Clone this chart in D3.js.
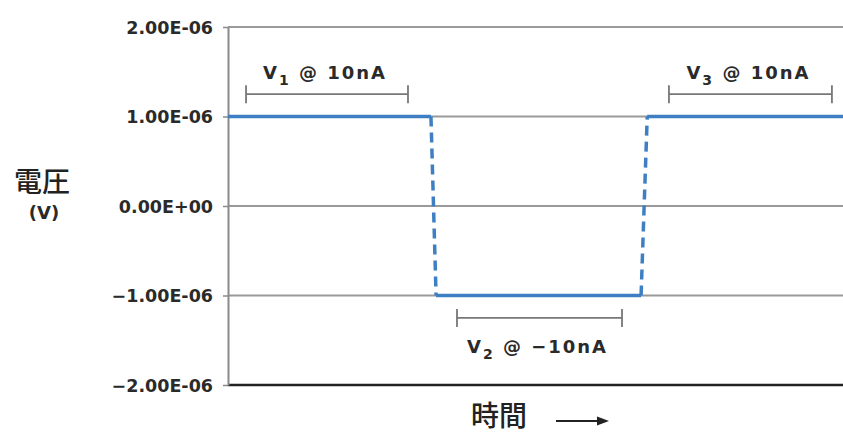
<!DOCTYPE html>
<html>
<head>
<meta charset="utf-8">
<script src="https://cdn.jsdelivr.net/npm/d3@7"></script>
<style>
  body { margin: 0; background: #fff; }
  svg { display: block; }
  .tick text { font-family: "DejaVu Sans", sans-serif; font-weight: bold; font-size: 17.5px; fill: #2a2a2a; }
  .lbl { font-family: "DejaVu Sans", sans-serif; font-weight: bold; font-size: 18px; fill: #2a2a2a; }
  .cjk { font-family: "Noto Sans CJK JP", sans-serif; font-weight: 500; font-size: 28px; fill: #222; }
</style>
</head>
<body>
<div id="chart"></div>
<script>
// y ticks (volts) and their printed labels
var yTicks = [2e-6, 1e-6, 0, -1e-6, -2e-6];
var yTickLabels = ["2.00E-06", "1.00E-06", "0.00E+00", "\u22121.00E-06", "\u22122.00E-06"];

// time in arbitrary units, voltage in volts
var levelSegs = [
    [{ t: 0, v: 1e-6 }, { t: 9.9, v: 1e-6 }],
    [{ t: 10.15, v: -1e-6 }, { t: 20.15, v: -1e-6 }],
    [{ t: 20.45, v: 1e-6 }, { t: 30, v: 1e-6 }]
];
var switchSegs = [
    [{ t: 9.9, v: 1e-6 }, { t: 10.15, v: -1e-6 }],
    [{ t: 20.15, v: -1e-6 }, { t: 20.45, v: 1e-6 }]
];

// measurement windows
var windowNames = ["V", "V", "V"];
var windowSubs = ["1", "2", "3"];
var windowCurrents = ["10nA", "\u221210nA", "10nA"];
var windowStart = [0.88, 11.17, 21.51];
var windowEnd = [8.78, 19.22, 29.46];
var windowLevel = [1.25e-6, -1.25e-6, 1.25e-6];

var width = 843, height = 437;
var margin = { left: 228, right: 0, top: 27, bottom: 52 };

var svg = d3.select("#chart").append("svg")
    .attr("width", width)
    .attr("height", height);

var x = d3.scaleLinear().domain([0, 30]).range([margin.left, width - margin.right]);
var y = d3.scaleLinear().domain([-2e-6, 2e-6]).range([height - margin.bottom, margin.top]);

// horizontal grid lines
svg.append("g")
    .selectAll("line")
    .data(yTicks)
    .join("line")
    .attr("x1", x(0))
    .attr("x2", x(30))
    .attr("y1", d => y(d))
    .attr("y2", d => y(d))
    .attr("stroke", d => d === -2e-6 ? "#222" : "#9a9a9a")
    .attr("stroke-width", d => d === -2e-6 ? 2.5 : 2);

// y axis
var yAxis = d3.axisLeft(y)
    .tickValues(yTicks)
    .tickFormat((d, i) => yTickLabels[i])
    .tickSize(5)
    .tickSizeOuter(0)
    .tickPadding(10);

var ax = svg.append("g")
    .attr("transform", "translate(" + x(0) + ",0)")
    .call(yAxis);
ax.select(".domain").attr("stroke", "#8a8a8a").attr("stroke-width", 2);
ax.selectAll(".tick line").attr("stroke", "#8a8a8a").attr("stroke-width", 1.5);
ax.selectAll(".tick text").attr("dy", "0.36em");

// signal
var line = d3.line().x(d => x(d.t)).y(d => y(d.v));
var blue = "#3d7fc2";

svg.append("g")
    .selectAll("path")
    .data(levelSegs)
    .join("path")
    .attr("d", line)
    .attr("fill", "none")
    .attr("stroke", blue)
    .attr("stroke-width", 3.5);

svg.append("g")
    .selectAll("path")
    .data(switchSegs)
    .join("path")
    .attr("d", line)
    .attr("fill", "none")
    .attr("stroke", blue)
    .attr("stroke-width", 3.5)
    .attr("stroke-dasharray", "10,6");

// brackets
var br = svg.append("g")
    .selectAll("g")
    .data(windowStart)
    .join("g");

br.append("line")
    .attr("x1", (d, i) => x(windowStart[i]))
    .attr("x2", (d, i) => x(windowEnd[i]))
    .attr("y1", (d, i) => y(windowLevel[i]))
    .attr("y2", (d, i) => y(windowLevel[i]))
    .attr("stroke", "#777")
    .attr("stroke-width", 1.8);

[windowStart, windowEnd].forEach(function (arr) {
    br.append("line")
        .attr("x1", (d, i) => x(arr[i]))
        .attr("x2", (d, i) => x(arr[i]))
        .attr("y1", (d, i) => y(windowLevel[i]) - 9)
        .attr("y2", (d, i) => y(windowLevel[i]) + 9)
        .attr("stroke", "#777")
        .attr("stroke-width", 1.8);
});

var lt = br.append("text")
    .attr("class", "lbl")
    .attr("text-anchor", "middle")
    .attr("x", (d, i) => (x(windowStart[i]) + x(windowEnd[i])) / 2 - 2)
    .attr("y", (d, i) => windowLevel[i] > 0 ? y(windowLevel[i]) - 15 : y(windowLevel[i]) + 35)
    .attr("letter-spacing", "2px");
lt.append("tspan").text((d, i) => windowNames[i]);
lt.append("tspan").attr("dy", 6).attr("font-size", "14px").text((d, i) => windowSubs[i]);
lt.append("tspan").attr("dy", -6).text((d, i) => " @ " + windowCurrents[i]);

// axis titles
svg.append("text")
    .attr("class", "cjk")
    .attr("x", 42)
    .attr("y", 192)
    .attr("text-anchor", "middle")
    .text("電圧");

svg.append("text")
    .attr("class", "lbl")
    .attr("font-size", "19px")
    .attr("x", 44)
    .attr("y", 219)
    .attr("text-anchor", "middle")
    .text("(V)");

svg.append("text")
    .attr("class", "cjk")
    .attr("x", 499)
    .attr("y", 426)
    .attr("text-anchor", "middle")
    .text("時間");

svg.append("line")
    .attr("x1", 556).attr("x2", 602)
    .attr("y1", 421).attr("y2", 421)
    .attr("stroke", "#222")
    .attr("stroke-width", 2);
svg.append("path")
    .attr("d", "M597,416.5 L609,421 L597,425.5 Z")
    .attr("fill", "#222");
</script>
</body>
</html>
